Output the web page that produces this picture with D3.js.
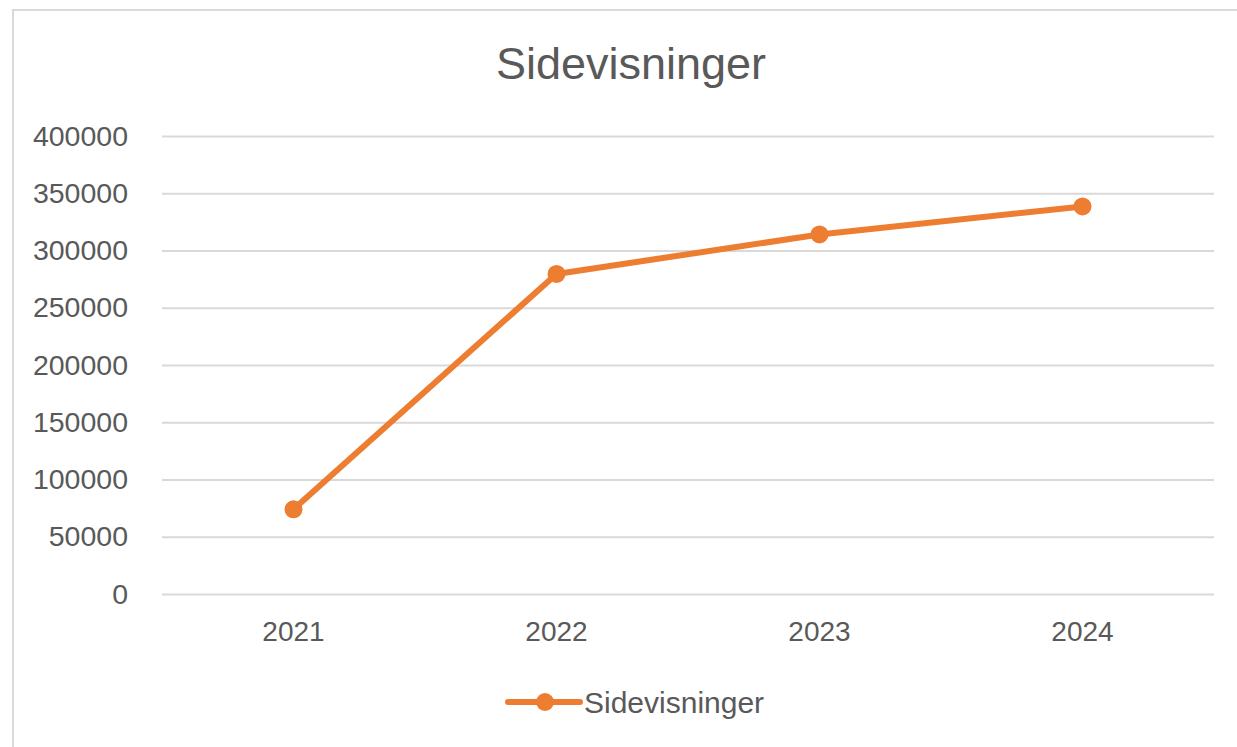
<!DOCTYPE html>
<html>
<head>
<meta charset="utf-8">
<script src="https://cdn.jsdelivr.net/npm/d3@7"></script>
<style>
  body { margin: 0; background: #fff; }
  text { font-family: "Liberation Sans", Arial, sans-serif; fill: #595959; }
</style>
</head>
<body>
<div id="chart"></div>
<script>
const years = ["2021", "2022", "2023", "2024"];
const views = [74000, 279500, 314000, 338500];
const yTicks = [0, 50000, 100000, 150000, 200000, 250000, 300000, 350000, 400000];
const seriesName = "Sidevisninger";

const width = 1237, height = 747;
const orange = "#ed7d31";
const margin = { top: 136, right: 23, bottom: 153, left: 162 };

let svg = d3.select("#chart").append("svg")
  .attr("width", width)
  .attr("height", height);

// chart area frame (right and bottom edge run off the picture)
svg.append("rect")
  .attr("x", 13)
  .attr("y", 10)
  .attr("width", width + 20)
  .attr("height", height + 20)
  .style("fill", "#fff")
  .style("stroke", "#d9d9d9")
  .style("stroke-width", 2);

let x = d3.scaleBand()
  .domain(years)
  .range([margin.left, width - margin.right]);

let y = d3.scaleLinear()
  .domain([0, 400000])
  .range([height - margin.bottom, margin.top]);

// gridlines + y labels
let yAxis = d3.axisLeft(y)
  .tickValues(yTicks)
  .tickSize(-(width - margin.left - margin.right))
  .tickPadding(34)
  .tickFormat(d => d);

let gy = svg.append("g")
  .attr("transform", `translate(${margin.left}, 0)`)
  .call(yAxis);
gy.select(".domain").remove();
gy.selectAll(".tick line")
  .style("stroke", "#d9d9d9")
  .style("stroke-width", 2);
gy.selectAll(".tick text")
  .style("font-size", "28.5px")
  .style("fill", "#595959");

// x labels
let gx = svg.append("g")
  .attr("transform", `translate(0, ${y(0)})`)
  .call(d3.axisBottom(x).tickSize(0).tickPadding(27));
gx.select(".domain").remove();
gx.selectAll(".tick text")
  .style("font-size", "28px")
  .style("fill", "#595959");

// line + markers
let pts = years.map((yr, i) => ({ yr: yr, v: views[i] }));

svg.append("path")
  .datum(pts)
  .attr("d", d3.line()
    .x(d => x(d.yr) + x.bandwidth() / 2)
    .y(d => y(d.v)))
  .style("fill", "none")
  .style("stroke", orange)
  .style("stroke-width", 6)
  .style("stroke-linejoin", "round");

svg.selectAll("circle.pt")
  .data(pts)
  .enter()
  .append("circle")
  .attr("class", "pt")
  .attr("cx", d => x(d.yr) + x.bandwidth() / 2)
  .attr("cy", d => y(d.v))
  .attr("r", 9)
  .style("fill", orange);

// title
svg.append("text")
  .attr("x", 631)
  .attr("y", 79)
  .style("text-anchor", "middle")
  .style("font-size", "45px")
  .text(seriesName);

// legend
let lg = svg.append("g").attr("transform", "translate(508, 702)");
lg.append("line")
  .attr("x1", 0).attr("x2", 72)
  .attr("y1", 0).attr("y2", 0)
  .style("stroke", orange)
  .style("stroke-width", 6)
  .style("stroke-linecap", "round");
lg.append("circle")
  .attr("cx", 37).attr("cy", 0).attr("r", 9)
  .style("fill", orange);
lg.append("text")
  .attr("x", 76)
  .attr("y", 11)
  .style("font-size", "30px")
  .text(seriesName);
</script>
</body>
</html>
